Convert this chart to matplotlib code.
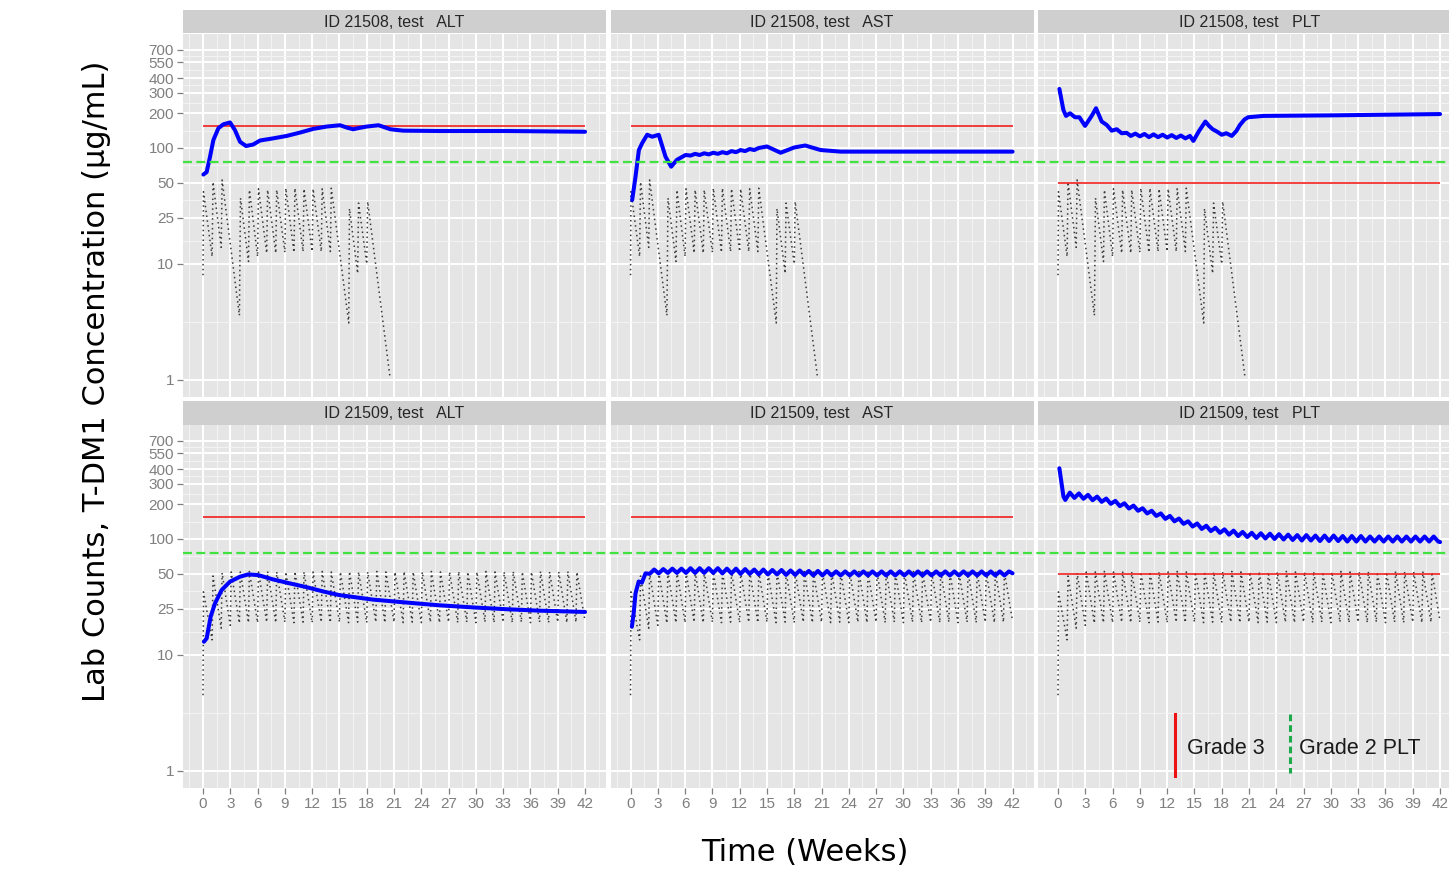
import matplotlib
matplotlib.use("Agg")
import matplotlib.pyplot as plt
from matplotlib.lines import Line2D
from matplotlib.ticker import FixedLocator, NullFormatter
from matplotlib.transforms import blended_transform_factory


W, H = 1449, 872

PATIENTS = ["21508", "21509"]
TESTS = ["ALT", "AST", "PLT"]

Y_TICKS = [1, 10, 25, 50, 100, 200, 300, 400, 550, 700]
X_TICKS = [0, 3, 6, 9, 12, 15, 18, 21, 24, 27, 30, 33, 36, 39, 42]

# grade 3 limit per panel (rows = patients, cols = tests)
GRADE3 = [[155, 155, 50], [155, 155, 50]]
GRADE2_PLT = 75

# T-DM1 concentration (dotted), patient 21508
PK_21508_T = [0.0, 0.05, 1.0, 1.1, 2.0, 2.1, 4.0, 4.12, 5.0, 5.1, 6.0, 6.1,
              7.0, 7.1, 8.0, 8.1, 9.0, 9.1, 10.0, 10.1, 11.0, 11.1, 12.0, 12.1,
              13.0, 13.1, 14.0, 14.1, 16.02, 16.1, 17.0, 17.1, 18.0, 18.1, 20.56]
PK_21508_C = [8.0, 42, 11.6, 51, 13.9, 53, 3.6, 37, 10.5, 43.5, 11.6, 44.5,
              12.4, 43.5, 12.4, 43.5, 12.6, 45, 12.6, 45, 12.8, 44.5, 12.8, 44.5,
              12.8, 44.5, 12.8, 45, 3.1, 30, 8.3, 33.5, 10.0, 34.5, 1.05]

# T-DM1 concentration (dotted), patient 21509
PK_21509_T = [0.0, 0.05, 1.0, 1.1, 2.0, 2.1, 3.0, 3.1, 4.0, 4.1, 5.0, 5.1,
              6.0, 6.1, 7.0, 7.1, 8.0, 8.1, 9.0, 9.1, 10.0, 10.1, 11.0, 11.1,
              12.0, 12.1, 13.0, 13.1, 14.0, 14.1, 15.0, 15.1, 16.0, 16.1, 17.0, 17.1,
              18.0, 18.1, 19.0, 19.1, 20.0, 20.1, 21.0, 21.1, 22.0, 22.1, 23.0, 23.1,
              24.0, 24.1, 25.0, 25.1, 26.0, 26.1, 27.0, 27.1, 28.0, 28.1, 29.0, 29.1,
              30.0, 30.1, 31.0, 31.1, 32.0, 32.1, 33.0, 33.1, 34.0, 34.1, 35.0, 35.1,
              36.0, 36.1, 37.0, 37.1, 38.0, 38.1, 39.0, 39.1, 40.0, 40.1, 41.0, 41.1,
              42.0]
PK_21509_C = [4.5, 35, 13.5, 48, 17.0, 51, 18.0, 52, 18.8, 52, 19.0, 52.5,
              19.0, 52, 19.2, 52.5, 19.0, 52, 19.2, 52, 19.0, 52.5, 19.2, 52,
              19.0, 52, 19.2, 52.5, 19.0, 52, 19.2, 52, 19.0, 52.5, 19.2, 52,
              19.0, 52, 19.2, 52.5, 19.0, 52, 19.2, 52, 19.0, 52.5, 19.2, 52,
              19.0, 52, 19.2, 52.5, 19.0, 52, 19.2, 52, 19.0, 52.5, 19.2, 52,
              19.0, 52, 19.2, 52.5, 19.0, 52, 19.2, 52, 19.0, 52.5, 19.2, 52,
              19.0, 52, 19.2, 52.5, 19.0, 52, 19.2, 52, 19.0, 52.5, 19.2, 52,
              19.5]

# lab values (blue)
ALT_21508_T = [0.04, 0.4, 0.77, 1.14, 1.69, 2.24, 2.97, 3.5, 4.07, 4.73, 5.5, 6.27,
               7.7, 9.2, 10.7, 12.1, 13.6, 15.06, 15.8, 16.5, 17.2, 18.0, 19.3,
               20.6, 22.0, 26.0, 33.4, 42.0]
ALT_21508_V = [59, 62, 84, 117, 148, 160, 166, 143, 113, 104, 107, 116,
               121, 127, 136, 146, 153, 157, 150, 145, 149, 153, 157,
               145, 141, 140, 140, 138]

AST_21508_T = [0.18, 0.55, 0.92, 1.28, 1.83, 2.38, 3.1, 3.85, 4.47, 5.1, 6.05, 6.6,
               7.1, 7.6, 8.1, 8.6, 9.1, 9.6, 10.1, 10.6, 11.1, 11.6, 12.1, 12.6,
               13.1, 13.6, 14.1, 15.0, 16.5, 18.0, 19.2, 20.9, 23.1, 29.7, 42.0]
AST_21508_V = [35.6, 56.6, 96, 110, 130, 125, 130, 84, 69, 79, 87, 86,
               89, 87, 90, 88, 91, 89, 92, 90, 94, 92, 96, 94,
               98, 96, 100, 103, 91, 101, 105, 96, 93, 93, 93]

PLT_21508_T = [0.15, 0.59, 0.88, 1.32, 1.87, 2.35, 2.97, 3.7, 4.18, 4.8, 5.35, 5.9,
               6.45, 7.0, 7.55, 8.0, 8.5, 9.0, 9.5, 10.0, 10.5, 11.0, 11.5, 12.0,
               12.5, 13.0, 13.5, 14.0, 14.5, 14.88, 15.5, 16.2, 16.6, 17.0, 17.5,
               18.0, 18.5, 19.1, 19.6, 20.0, 20.5, 20.9, 22.6, 29.9, 42.0]
PLT_21508_V = [323, 213, 189, 199, 184, 184, 155, 189, 220, 169, 158, 141,
               145, 134, 135, 127, 133, 126, 132, 124, 131, 124, 130, 123,
               129, 122, 128, 121, 127, 115, 140, 169, 155, 145, 138,
               130, 134, 127, 140, 158, 176, 184, 189, 191, 196]

ALT_21509_T = [0.1, 0.4, 0.84, 1.32, 2.05, 2.97, 4.07, 4.98, 6.08, 7.7, 9.5, 11.4,
               13.2, 15.0, 18.7, 22.4, 26.0, 29.7, 33.4, 37.0, 42.0]
ALT_21509_V = [13.0, 13.9, 21.4, 27.9, 36.3, 42.9, 47.3, 49.5, 48.8, 44.8, 41.5, 38.4,
               35.3, 32.8, 30.0, 28.3, 26.8, 25.7, 24.8, 24.1, 23.5]

AST_21509_T = [0.15, 0.35, 0.55, 0.9, 1.25, 1.65,
               2.1, 2.6, 3.1, 3.6, 4.1, 4.6, 5.1, 5.6, 6.1, 6.6, 7.1, 7.6, 8.1, 8.6,
               9.1, 9.6, 10.1, 10.6, 11.1, 11.6, 12.1, 12.6, 13.1, 13.6, 14.1, 14.6,
               15.1, 15.6, 16.1, 16.6, 17.1, 17.6, 18.1, 18.6, 19.1, 19.6, 20.1, 20.6,
               21.1, 21.6, 22.1, 22.6, 23.1, 23.6, 24.1, 24.6, 25.1, 25.6, 26.1, 26.6,
               27.1, 27.6, 28.1, 28.6, 29.1, 29.6, 30.1, 30.6, 31.1, 31.6, 32.1, 32.6,
               33.1, 33.6, 34.1, 34.6, 35.1, 35.6, 36.1, 36.6, 37.1, 37.6, 38.1, 38.6,
               39.1, 39.6, 40.1, 40.6, 41.1, 41.6, 42.0]
AST_21509_V = [17.5, 23, 34, 43, 42, 50.6,
               50, 54.5, 50.5, 55, 51, 55.5, 51, 55.5, 51, 56, 51, 56, 51, 56,
               51, 56, 50.5, 55.5, 50.5, 55.5, 50, 55, 50, 54.5, 49.5, 54.5,
               49.5, 54, 49.5, 54, 49, 53.5, 49, 53.5, 49, 53, 48.5, 53,
               48.5, 53, 48.5, 52.5, 48.5, 52.5, 48.5, 52.5, 48.5, 52.5, 48.5, 52.5,
               48.5, 52.5, 48.5, 52.5, 48.5, 52.5, 48.5, 52.5, 48.5, 52.5, 48.5, 52.5,
               48.5, 52.5, 48.5, 52.5, 48.5, 52.5, 48.5, 52.5, 48.5, 52.5, 48.5, 52.5,
               48.5, 52.5, 48.5, 52.5, 48.5, 52.5, 50.6]

PLT_21509_T = [0.15, 0.6, 0.8,
               1.3, 1.8, 2.3, 2.8, 3.3, 3.8, 4.3, 4.8, 5.3, 5.8, 6.3, 6.8, 7.3, 7.8,
               8.3, 8.8, 9.3, 9.8, 10.3, 10.8, 11.3, 11.8, 12.3, 12.8, 13.3, 13.8,
               14.3, 14.8, 15.3, 15.8, 16.3, 16.8, 17.3, 17.8, 18.3, 18.8, 19.3, 19.8,
               20.3, 20.8, 21.3, 21.8, 22.3, 22.8, 23.3, 23.8, 24.3, 24.8, 25.3, 25.8,
               26.3, 26.8, 27.3, 27.8, 28.3, 28.8, 29.3, 29.8, 30.3, 30.8, 31.3, 31.8,
               32.3, 32.8, 33.3, 33.8, 34.3, 34.8, 35.3, 35.8, 36.3, 36.8, 37.3, 37.8,
               38.3, 38.8, 39.3, 39.8, 40.3, 40.8, 41.3, 41.8, 42.0]
PLT_21509_V = [407, 232, 217,
               251, 226, 247, 222, 240, 216, 232, 209, 223, 201, 213, 192, 203, 183,
               194, 175, 184, 166, 175, 158, 166, 149, 158, 142, 150, 135, 142, 128,
               136, 122, 130, 117, 125, 113, 121, 109, 118, 106, 115, 104, 113, 102,
               112, 101, 111, 100, 110, 99, 109, 98, 108, 97, 108, 97, 107, 96,
               107, 96, 107, 96, 106, 95, 106, 95, 106, 95, 105, 95, 105, 95,
               105, 95, 105, 95, 105, 95, 105, 95, 105, 95, 105, 95, 94]

PK_T = [PK_21508_T, PK_21509_T]
PK_C = [PK_21508_C, PK_21509_C]
LAB_T = [[ALT_21508_T, AST_21508_T, PLT_21508_T], [ALT_21509_T, AST_21509_T, PLT_21509_T]]
LAB_V = [[ALT_21508_V, AST_21508_V, PLT_21508_V], [ALT_21509_V, AST_21509_V, PLT_21509_V]]

PANEL_LEFT = [183, 610.5, 1038]
PANEL_TOP = [33.5, 424.5]
PANEL_W, PANEL_H, STRIP_H = 423, 363.5, 23.5

GREY = "#7F7F7F"


def fig_rect(left, top, width, height):
    return [left / W, 1 - (top + height) / H, width / W, height / H]


def style_panel(ax, row, col):
    ax.set_facecolor("#E5E5E5")
    ax.set_yscale("log")
    ax.set_xlim(-2.2, 44.3)
    ax.set_ylim(0.7135, 970)
    ax.set_yticks(Y_TICKS)
    ax.set_yticklabels([str(v) for v in Y_TICKS])
    ax.set_xticks(X_TICKS)
    ax.set_xticklabels([str(v) for v in X_TICKS])
    y_minor = [(a * b) ** 0.5 for a, b in zip(Y_TICKS[:-1], Y_TICKS[1:])]
    x_minor = [X_TICKS[0] - 1.5] + [x + 1.5 for x in X_TICKS]
    ax.yaxis.set_minor_locator(FixedLocator(y_minor))
    ax.xaxis.set_minor_locator(FixedLocator(x_minor))
    ax.yaxis.set_minor_formatter(NullFormatter())
    ax.xaxis.set_minor_formatter(NullFormatter())
    ax.grid(which="major", color="white", lw=1.4)
    ax.grid(which="minor", color="#F4F4F4", lw=0.7)
    ax.set_axisbelow(True)
    for s in ax.spines.values():
        s.set_visible(False)
    ax.tick_params(which="major", length=4.5, width=0.9, color=GREY, labelcolor=GREY,
                   labelsize=11, pad=2)
    ax.tick_params(which="minor", length=0)
    for lab in ax.get_xticklabels() + ax.get_yticklabels():
        lab.set_family("Liberation Sans")
    if col != 0:
        ax.tick_params(axis="y", left=False, labelleft=False)
    if row != 1:
        ax.tick_params(axis="x", bottom=False, labelbottom=False)


def main():
    fig = plt.figure(figsize=(W / 100, H / 100), dpi=100)
    fig.patch.set_facecolor("white")

    first_col = []
    for r, pid in enumerate(PATIENTS):
        for c, test in enumerate(TESTS):
            left, top = PANEL_LEFT[c], PANEL_TOP[r]
            ax = fig.add_axes(fig_rect(left, top, PANEL_W, PANEL_H))
            style_panel(ax, r, c)

            ax.plot(PK_T[r], PK_C[r], color="#3A3A3A", lw=1.1, ls=(0, (1, 2.2)), zorder=2)
            ax.hlines(GRADE3[r][c], 0, 42, color="#F0201E", lw=1.2, zorder=3)
            ax.plot(LAB_T[r][c], LAB_V[r][c], color="#0000FF", lw=2.9,
                    solid_joinstyle="round", solid_capstyle="round", zorder=4)

            sax = fig.add_axes(fig_rect(left, top - STRIP_H, PANEL_W, STRIP_H))
            sax.set_facecolor("#CFCFCF")
            sax.set_xticks([])
            sax.set_yticks([])
            for s in sax.spines.values():
                s.set_visible(False)
            sax.text(0.5, 0.48, f"ID {pid}, test   {test}", ha="center", va="center",
                     fontsize=11.5, color="#262626", family="Liberation Sans",
                     transform=sax.transAxes)
            if c == 0:
                first_col.append(ax)

    # grade 2 PLT line runs across the whole row
    for ax in first_col:
        tr = blended_transform_factory(fig.transFigure, ax.transData)
        fig.add_artist(Line2D([PANEL_LEFT[0] / W, 1.0], [GRADE2_PLT, GRADE2_PLT],
                              transform=tr, color="#3FE23F", lw=1.6,
                              ls=(0, (4, 2)), zorder=5))

    # legend
    fig.add_artist(Line2D([1175 / W, 1175 / W], [1 - 714 / H, 1 - 776 / H],
                          transform=fig.transFigure, color="#EE1111", lw=2.2))
    fig.add_artist(Line2D([1290 / W, 1290 / W], [1 - 714 / H, 1 - 773 / H],
                          transform=fig.transFigure, color="#1DAA4A", lw=2.2,
                          ls=(0, (2.2, 1.3))))
    fig.text(1187 / W, 1 - 748 / H, "Grade 3", fontsize=15.5, color="#1A1A1A",
             family="Liberation Sans", va="center", ha="left")
    fig.text(1299 / W, 1 - 748 / H, "Grade 2 PLT", fontsize=15.5, color="#1A1A1A",
             family="Liberation Sans", va="center", ha="left")

    fig.text(97 / W, 1 - 381 / H, "Lab Counts, T-DM1 Concentration (µg/mL)",
             rotation=90, ha="center", va="center", fontsize=22, color="black")
    fig.text(805 / W, 1 - 852 / H, "Time (Weeks)", ha="center", va="center",
             fontsize=22, color="black")

    fig.savefig("out.png", dpi=100)


if __name__ == "__main__":
    main()
